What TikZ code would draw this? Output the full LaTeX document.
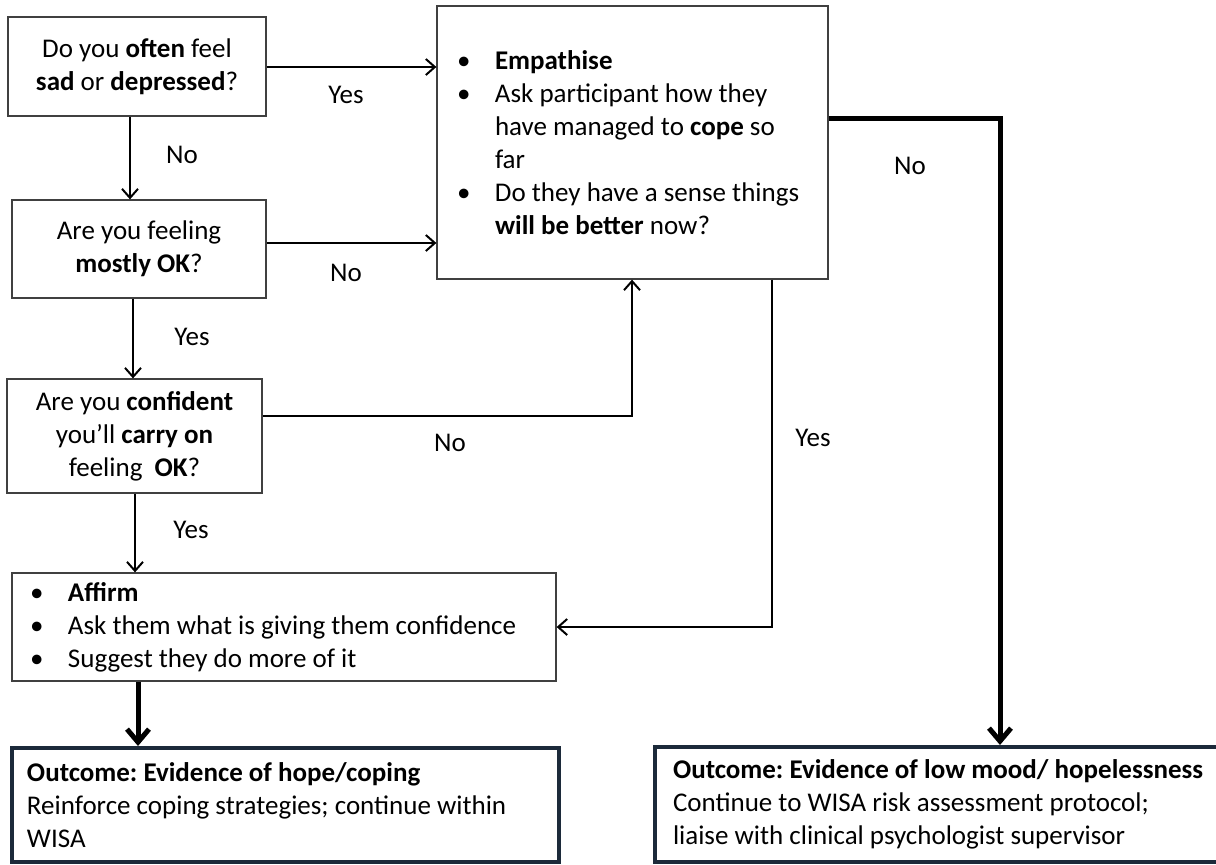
\documentclass[tikz,border=0pt]{standalone}
\usepackage{fontspec}
\setmainfont{Carlito}
\usetikzlibrary{arrows.meta,calc}
\definecolor{boxgray}{HTML}{404040}
\definecolor{navy}{HTML}{1C2A3A}
\newcommand{\bul}{\makebox[38pt][l]{\textbullet}}
\newcommand{\ind}{\hspace*{38pt}}
\frenchspacing
\begin{document}
\begin{tikzpicture}[x=1pt,y=-1pt,
  every node/.style={font=\fontsize{27}{33}\selectfont},
  qbox/.style={draw=boxgray, line width=1.3pt, align=center, inner sep=0pt},
  lbox/.style={draw=boxgray, line width=1.3pt, align=flush left, inner ysep=0pt},
  obox/.style={draw=navy, line width=4pt, align=flush left, inner ysep=0pt},
  arr/.style={line width=2pt, -{Straight Barb[length=9pt,width=16pt]}},
  tarr/.style={line width=5pt, -{Straight Barb[length=13pt,width=22pt]}}]
\useasboundingbox[fill=white] (0,0) rectangle (1216,865);

\node[qbox, minimum width=258pt, minimum height=99pt] (box1) at (137,66.5)
  {Do you \textbf{often} feel\\\textbf{sad} or \textbf{depressed}?};
\node[qbox, minimum width=254pt, minimum height=98pt] (box2) at (139,249)
  {Are you feeling\\\textbf{mostly OK}?};
\node[qbox, minimum width=255pt, minimum height=114pt] (box3) at (134.5,436)
  {Are you \textbf{confident}\\you’ll \textbf{carry on}\\feeling\ \ \textbf{OK}?};
\node[lbox, inner xsep=20pt, text width=351pt, minimum height=273pt] (emp) at (632.5,142.5)
  {\mbox{\bul\textbf{Empathise}}\\
   \mbox{\bul Ask participant how they}\\
   \mbox{\ind have managed to \textbf{cope} so}\\
   \mbox{\ind far}\\
   \mbox{\bul Do they have a sense things}\\
   \mbox{\ind\textbf{will be better} now?}};
\node[lbox, inner xsep=18pt, text width=508pt, minimum height=108pt] (aff) at (284,627)
  {\mbox{\bul\textbf{Affirm}}\\
   \mbox{\bul Ask them what is giving them confidence}\\
   \mbox{\bul Suggest they do more of it}};
\node[obox, inner xsep=15pt, text width=517pt, minimum height=114pt] (out1) at (285.5,805)
  {\mbox{\textbf{Outcome: Evidence of hope/coping}}\\
   \mbox{Reinforce coping strategies; continue within}\\
   \mbox{WISA}};
\node[obox, inner xsep=18pt, text width=549pt, minimum height=115pt] (out2) at (947.5,804.5)
  {\mbox{\textbf{Outcome: Evidence of low mood/ hopelessness}}\\
   \mbox{Continue to WISA risk assessment protocol;}\\
   \mbox{liaise with clinical psychologist supervisor}};

\coordinate (y1) at (0,67);
\coordinate (y2) at (0,243);
\coordinate (y3) at (0,416);
\coordinate (y4) at (0,118);
\coordinate (xa) at (130,0);
\coordinate (xb) at (133,0);
\coordinate (xc) at (632,0);
\coordinate (xd) at (135,0);
\coordinate (xe) at (772,0);
\coordinate (xf) at (1000,0);
\coordinate (xg) at (138,0);

\draw[arr] (box1.east |- y1) -- (emp.west |- y1);
\draw[arr] (box1.south -| xa) -- (box2.north -| xa);
\draw[arr] (box2.east |- y2) -- (emp.west |- y2);
\draw[arr] (box2.south -| xb) -- (box3.north -| xb);
\draw[arr] (box3.east |- y3) -| (emp.south -| xc);
\draw[arr] (box3.south -| xd) -- (aff.north -| xd);
\draw[arr] (emp.south -| xe) |- (aff.east);
\draw[tarr] (emp.east |- y4) -| (out2.north -| xf);
\draw[tarr] (aff.south -| xg) -- (out1.north -| xg);

\node (l1) at (346,95) {Yes};
\node (l2) at (182,155) {No};
\node (l3) at (346,273) {No};
\node (l4) at (192,337) {Yes};
\node (l5) at (450,443) {No};
\node (l6) at (813,438) {Yes};
\node (l7) at (910,166) {No};
\node (l8) at (191,530) {Yes};
\end{tikzpicture}
\end{document}
